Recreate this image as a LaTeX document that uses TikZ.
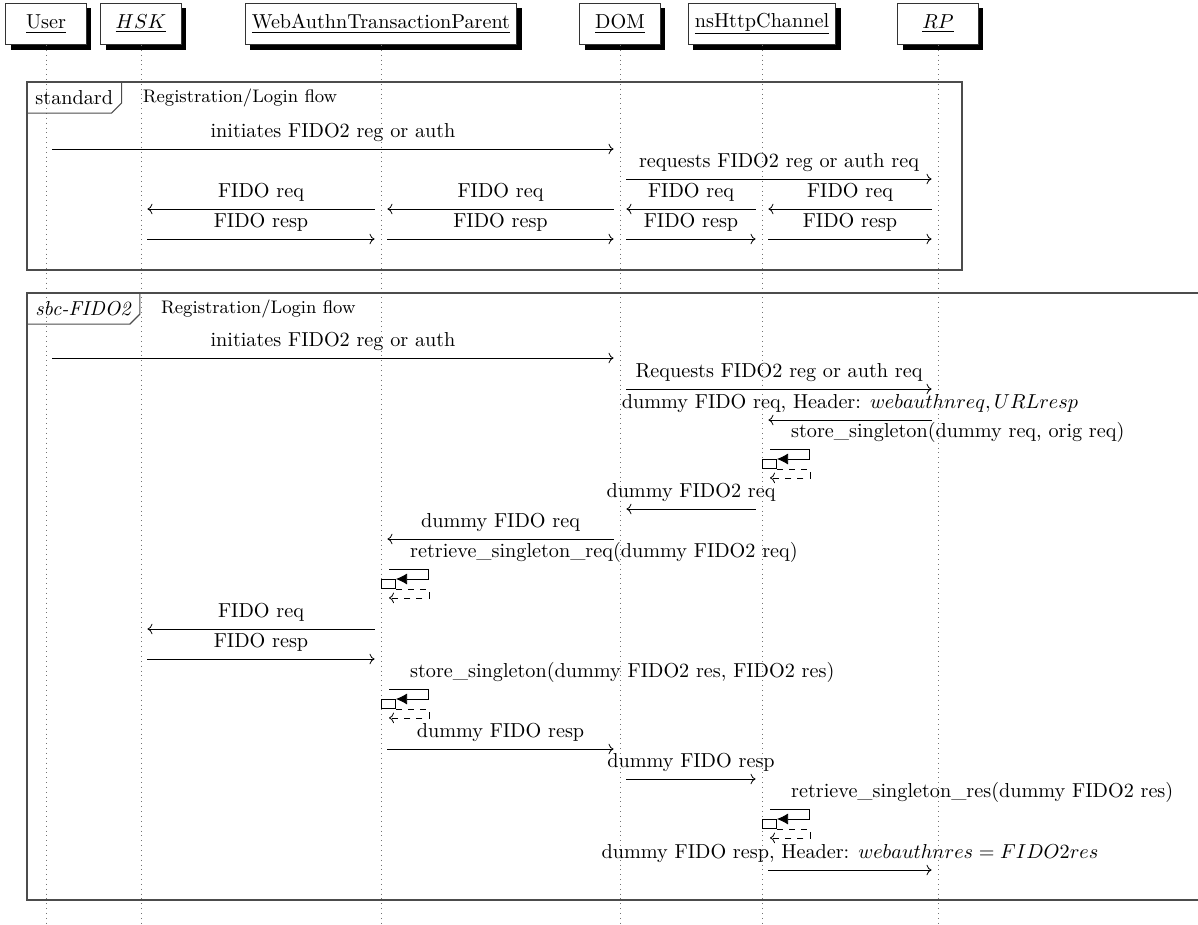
\documentclass[tikz,border=0pt]{standalone}
\usepackage{amsmath}
\usepackage{tikz}
\usetikzlibrary{positioning, arrows.meta, calc, shadows}

\begin{document}
\begin{tikzpicture}[x=0.495pt, y=-0.495pt,
    inst/.style={draw=black!80, fill=white, minimum width=1.4cm, minimum height=0.72cm,
        drop shadow={shadow xshift=2.4pt, shadow yshift=-2.4pt, opacity=1, fill=black}},
    lifeline/.style={dotted, draw=black!55},
    frame/.style={draw=black!70, semithick},
    tag/.style={anchor=north west, inner xsep=4pt, inner ysep=2.5pt, minimum height=15pt},
    msg/.style={->, shorten <=3.2pt, shorten >=3.2pt},
    actbox/.style={draw, anchor=north west, inner sep=0pt, minimum width=7pt, minimum height=4.5pt},
    callarr/.style={-{Latex[length=5.5pt, width=5.5pt]}},
    retarr/.style={dashed, ->}]
    \useasboundingbox (0,0) rectangle (1198,924);
    \clip (0,0) rectangle (1198,924);

    % instances
    \node[inst] (user) at (46,24) {\underline{User}};
    \node[inst] (hsk) at (141,24) {\underline{$HSK$}};
    \node[inst] (watp) at (381,24) {\underline{WebAuthnTransactionParent}};
    \node[inst] (dom) at (620,24) {\underline{DOM}};
    \node[inst] (chan) at (762,24) {\underline{nsHttpChannel}};
    \node[inst] (rp) at (938,24) {\underline{$RP$}};

    \coordinate (bottom) at (0,924);
    \foreach \n in {user, hsk, watp, dom, chan, rp} {
        \draw[lifeline] (\n.south) -- (\n |- bottom);
    }

    % standard block
    \draw[frame] (27,82) rectangle (962,270);
    \node[tag] (stdtag) at (27,82) {standard};
    \draw[frame] (stdtag.north east) -- ([yshift=5pt]stdtag.south east)
        -- ([xshift=-5pt]stdtag.south east) -- (stdtag.south west);
    \node[font=\small, right=7pt of stdtag] (stddesc) {Registration/Login flow};

    \foreach \s/\r/\y/\txt in {user/dom/149/{initiates FIDO2 reg or auth},
            dom/rp/179/{requests FIDO2 reg or auth req},
            rp/chan/209/{FIDO req}, chan/dom/209/{FIDO req},
            dom/watp/209/{FIDO req}, watp/hsk/209/{FIDO req},
            hsk/watp/239/{FIDO resp}, watp/dom/239/{FIDO resp},
            dom/chan/239/{FIDO resp}, chan/rp/239/{FIDO resp}} {
        \coordinate (row) at (0,\y);
        \draw[msg] (\s |- row) -- (\r |- row) node[midway, above] {\txt};
    }

    % sbc-FIDO2 block
    \draw[frame] (27,293) rectangle (1215,900);
    \node[tag] (sbctag) at (27,293) {\textit{sbc-FIDO2}};
    \draw[frame] (sbctag.north east) -- ([yshift=5pt]sbctag.south east)
        -- ([xshift=-5pt]sbctag.south east) -- (sbctag.south west);
    \node[font=\small, right=7pt of sbctag] (sbcdesc) {Registration/Login flow};

    \foreach \s/\r/\y/\txt in {user/dom/358/{initiates FIDO2 reg or auth},
            dom/rp/389/{Requests FIDO2 reg or auth req},
            rp/chan/420/{dummy FIDO req, Header: $webauthnreq, URLresp$},
            chan/dom/509/{dummy FIDO2 req},
            dom/watp/539/{dummy FIDO req},
            watp/hsk/629/{FIDO req},
            hsk/watp/659/{FIDO resp},
            watp/dom/749/{dummy FIDO resp},
            dom/chan/779/{dummy FIDO resp},
            chan/rp/870/{dummy FIDO resp, Header: $webauthnres = FIDO2res$}} {
        \coordinate (row) at (0,\y);
        \draw[msg] (\s |- row) -- (\r |- row) node[midway, above] {\txt};
    }

    % self calls
    \foreach \b/\c/\y/\txt in {chan/c1/459/{store\_singleton(dummy req, orig req)},
            watp/c2/579/{retrieve\_singleton\_req(dummy FIDO2 req)},
            watp/c3/699/{store\_singleton(dummy FIDO2 res, FIDO2 res)},
            chan/c4/819/{retrieve\_singleton\_res(dummy FIDO2 res)}} {
        \coordinate (row) at (0,\y);
        \node[actbox] (\c) at (\b |- row) {};
        \draw[callarr] ($(\c.north west)+(8,-10)$) -- ++(39,0) -- ++(0,10) -- (\c.north east);
        \draw[retarr] (\c.south east) -- ++(33,0) -- ++(0,9) -- ($(\c.south west)+(8,9)$);
        \node[anchor=west] at ($(\c.north west)+(22,-27)$) {\txt};
    }
\end{tikzpicture}
\end{document}
